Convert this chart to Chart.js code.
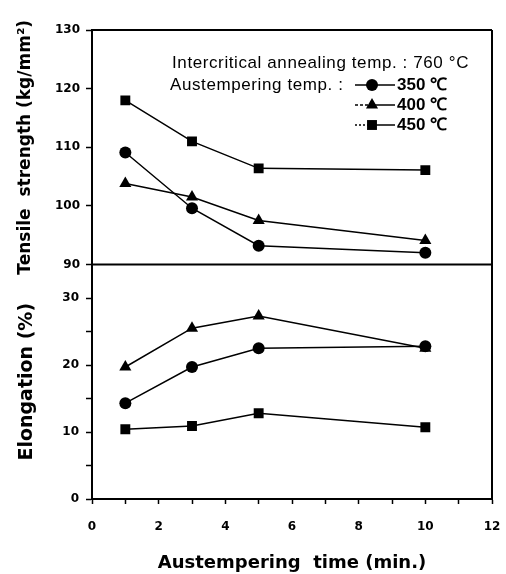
<!DOCTYPE html>
<html>
<head>
<meta charset="utf-8">
<script src="https://cdn.jsdelivr.net/npm/chart.js@4/dist/chart.umd.min.js"></script>
<style>
  html, body { margin: 0; padding: 0; background: #fff; }
  #wrap { width: 506px; height: 574px; }
</style>
</head>
<body>
<div id="wrap"><canvas id="chart" width="506" height="574"></canvas></div>
<script>
// austempering time (min.)
const times = [1, 3, 5, 10];
const temps = ["350 ℃", "400 ℃", "450 ℃"];
const markers = ["circle", "triangle", "rect"];
const markerSize = [6, 7, 7];

// tensile strength (kg/mm²)
const tensile350 = [109.1, 99.6, 93.2, 92.0];
const tensile400 = [103.8, 101.5, 97.5, 94.1];
const tensile450 = [118.0, 111.0, 106.4, 106.1];

// elongation (%)
const elong350 = [14.3, 19.7, 22.5, 22.8];
const elong400 = [19.7, 25.5, 27.3, 22.5];
const elong450 = [10.4, 10.9, 12.8, 10.7];

const FONT = "'Liberation Sans', Arial, sans-serif";
const HEAVY = "'DejaVu Sans', sans-serif";
const INK = "#000";

const toPoints = vals => vals.map((v, i) => ({ x: times[i], y: v }));

function series(vals, idx, axis) {
    return {
        label: temps[idx],
        data: toPoints(vals),
        yAxisID: axis,
        borderColor: INK,
        backgroundColor: INK,
        borderWidth: 1.5,
        pointStyle: markers[idx],
        pointRadius: markerSize[idx],
        pointHoverRadius: markerSize[idx],
        pointBorderWidth: 0,
        tension: 0
    };
}

// frame lines (top, right, divider between panels) + legend text block
const framePlugin = {
    id: "frame",
    afterDraw(chart) {
        const { ctx, chartArea: a, scales } = chart;
        const mid = scales.yT.bottom;
        ctx.save();
        ctx.strokeStyle = INK;
        ctx.lineWidth = 2;
        ctx.beginPath();
        ctx.moveTo(a.left, a.top); ctx.lineTo(a.right, a.top);
        ctx.moveTo(a.right, a.top); ctx.lineTo(a.right, a.bottom);
        ctx.moveTo(a.left, mid); ctx.lineTo(a.right, mid);
        ctx.stroke();

        ctx.fillStyle = INK;
        ctx.textBaseline = "middle";
        ctx.textAlign = "left";
        ctx.font = "17px " + FONT;
        ctx.letterSpacing = "0.6px";
        ctx.fillText("Intercritical annealing temp. : 760 °C", 172, 63);
        ctx.fillText("Austempering temp. :", 170, 85);

        const rows = [85, 105, 125];
        const dashes = [[], [3, 2], [2, 2]];
        rows.forEach((y, i) => {
            ctx.lineWidth = 1.5;
            ctx.setLineDash(dashes[i]);
            ctx.beginPath();
            ctx.moveTo(355, y); ctx.lineTo(372, y);
            ctx.stroke();
            ctx.setLineDash([]);
            ctx.beginPath();
            ctx.moveTo(372, y); ctx.lineTo(395, y);
            ctx.stroke();
            Chart.helpers.drawPoint(ctx, {
                pointStyle: markers[i], radius: markerSize[i], borderWidth: 0
            }, 372, y);
            ctx.font = "bold 17px " + FONT;
            ctx.letterSpacing = "0px";
            ctx.fillText(temps[i], 397, y);
        });
        ctx.restore();
    }
};

const tickFont = { family: HEAVY, size: 12, weight: "bold" };

new Chart(document.getElementById("chart"), {
    type: "line",
    data: {
        datasets: [
            series(tensile350, 0, "yT"),
            series(tensile400, 1, "yT"),
            series(tensile450, 2, "yT"),
            series(elong350, 0, "yB"),
            series(elong400, 1, "yB"),
            series(elong450, 2, "yB")
        ]
    },
    options: {
        responsive: false,
        animation: false,
        layout: { padding: { top: 30, right: 14, left: 0, bottom: 0 } },
        plugins: { legend: { display: false }, tooltip: { enabled: false } },
        scales: {
            x: {
                type: "linear", min: 0, max: 12,
                ticks: {
                    stepSize: 1, color: INK, font: tickFont, padding: 16,
                    callback: v => (v % 2 === 0 ? v : "")
                },
                grid: { drawOnChartArea: false, color: INK, tickLength: 5, tickWidth: 1.5 },
                border: { color: INK, width: 2 },
                title: {
                    display: true, text: "Austempering  time (min.)",
                    color: INK, font: { family: HEAVY, size: 18, weight: "bold" },
                    padding: { top: 10, bottom: 0 }
                },
                afterFit: s => {
                    s.height = 75;
                    s.paddingLeft = 0;
                    s.paddingRight = 0;
                }
            },
            yB: {
                type: "linear", position: "left", stack: "panels", stackWeight: 1,
                min: 0, max: 35,
                ticks: {
                    stepSize: 5, color: INK, font: tickFont, padding: 7,
                    callback: v => (v === 35 ? null : (v % 10 === 0 ? v : ""))
                },
                grid: { drawOnChartArea: false, color: INK, tickLength: 6, tickWidth: 1.5 },
                border: { color: INK, width: 2 },
                title: {
                    display: true, text: "Elongation (%)", color: INK,
                    font: { family: HEAVY, size: 19, weight: "bold" },
                    padding: { top: 16, bottom: 0 }
                },
                afterFit: s => { s.width = 92; }
            },
            yT: {
                type: "linear", position: "left", stack: "panels", stackWeight: 1,
                min: 90, max: 130,
                ticks: {
                    stepSize: 5, color: INK, font: tickFont, padding: 6,
                    callback: v => (v % 10 === 0 ? v : "")
                },
                grid: { drawOnChartArea: false, color: INK, tickLength: 6, tickWidth: 1.5 },
                border: { color: INK, width: 2 },
                title: {
                    display: true, text: "Tensile  strength (kg/mm²)", color: INK,
                    font: { family: HEAVY, size: 17, weight: "bold" },
                    padding: { top: 15, bottom: 0 }
                },
                afterFit: s => { s.width = 92; }
            }
        }
    },
    plugins: [framePlugin]
});
</script>
</body>
</html>
